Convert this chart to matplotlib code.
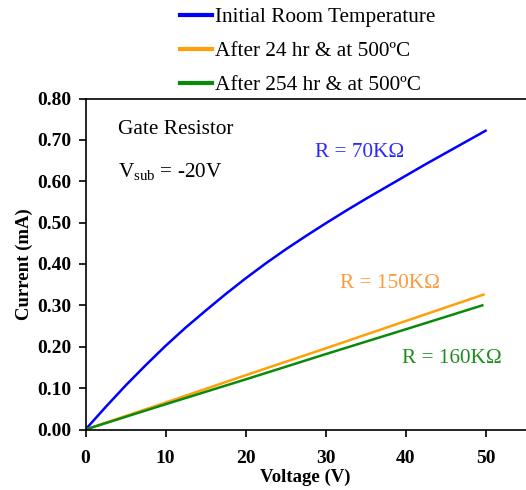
import matplotlib
matplotlib.use("Agg")
import matplotlib.pyplot as plt
import numpy as np

plt.rcParams['font.family'] = ['Liberation Serif', 'DejaVu Serif']
plt.rcParams['mathtext.fontset'] = 'custom'
plt.rcParams['mathtext.rm'] = 'Liberation Serif'
plt.rcParams['mathtext.it'] = 'Liberation Serif:italic'
plt.rcParams['mathtext.bf'] = 'Liberation Serif:bold'

# Data
v_blue = [0, 2.5, 5, 7.5, 10, 12.5, 15, 17.5, 20, 22.5, 25, 27.5, 30,
          32.5, 35, 37.5, 40, 42.5, 45, 47.5, 50]
i_blue = [0, 0.054, 0.106, 0.155, 0.202, 0.246, 0.287, 0.327, 0.365, 0.401,
          0.435, 0.467, 0.498, 0.528, 0.557, 0.585, 0.613, 0.641, 0.668, 0.695, 0.722]
v_orange = [0, 10, 20, 30, 40, 49.75]
i_orange = [0, 0.065, 0.131, 0.196, 0.262, 0.326]
v_green = [0, 10, 20, 30, 40, 49.6]
i_green = [0, 0.061, 0.121, 0.182, 0.242, 0.300]

labels = ["Initial Room Temperature", "After 24 hr & at 500ºC", "After 254 hr & at 500ºC"]
xticks = [0, 10, 20, 30, 40, 50]
yticks = [0.0, 0.1, 0.2, 0.3, 0.4, 0.5, 0.6, 0.7, 0.8]

c_blue = '#0000FF'
c_orange = '#FFA00A'
c_green = '#0A8A0A'

fig = plt.figure(figsize=(5.26, 4.90), dpi=100)
ax = fig.add_axes([85.5/526, 1-429.5/490, 440/526, 331/490])

l1, = ax.plot(v_blue, i_blue, color=c_blue, lw=1.8, label=labels[0])
l2, = ax.plot(v_orange, i_orange, color=c_orange, lw=1.8, label=labels[1])
l3, = ax.plot(v_green, i_green, color=c_green, lw=1.8, label=labels[2])

ax.set_xlim(0, 55)
ax.set_ylim(0, 0.8)
ax.set_xticks(xticks)
ax.set_yticks(yticks)
ax.set_yticklabels([f"{t:.2f}" for t in yticks])
ax.tick_params(axis='both', direction='out', length=5, width=1.2, labelsize=14)
ax.tick_params(axis='x', pad=10)
ax.tick_params(axis='y', pad=5)
for lab in ax.get_xticklabels() + ax.get_yticklabels():
    lab.set_fontweight('bold')
for s in ['left', 'bottom', 'top']:
    ax.spines[s].set_linewidth(1.2)
ax.spines['right'].set_visible(False)

ax.set_xlabel("Voltage (V)", fontsize=13.5, fontweight='bold', labelpad=1)
ax.set_ylabel("Current (mA)", fontsize=13.5, fontweight='bold', labelpad=3)

fs = 15.3
ax.text(4.1, 0.7135, "Gate Resistor", fontsize=fs, va='baseline', ha='left')
ax.text(4.1, 0.611, r"V$_{\mathrm{sub}}$ = -20V", fontsize=fs, va='baseline', ha='left')
ax.text(28.7, 0.659, "R = 70KΩ", fontsize=fs, color='#2A2AFF', va='baseline', ha='left')
ax.text(31.8, 0.343, "R = 150KΩ", fontsize=fs, color='#FF9A3C', va='baseline', ha='left')
ax.text(39.55, 0.160, "R = 160KΩ", fontsize=fs, color='#1E8C1E', va='baseline', ha='left')

leg = fig.legend(handles=[l1, l2, l3], loc='upper left', bbox_to_anchor=(177.5/526, 1 - 5/490),
                 frameon=False, fontsize=fs, handlelength=1.5, handletextpad=0.15,
                 labelspacing=0.67, borderaxespad=0.0, borderpad=0.1)
for h in leg.legend_handles:
    h.set_linewidth(3)

fig.savefig("out.png", dpi=100)
